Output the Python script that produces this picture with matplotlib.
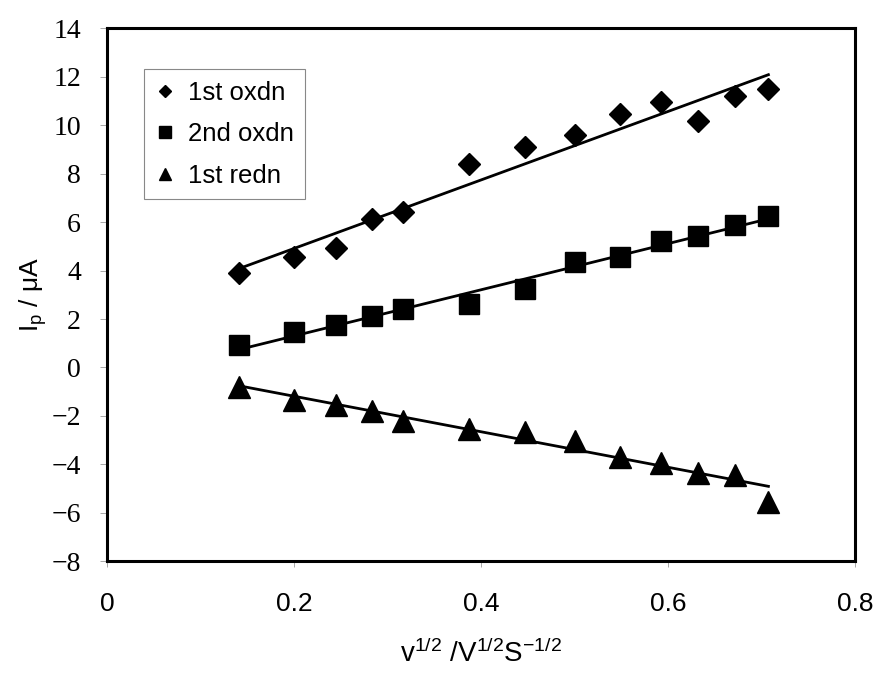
import numpy as np
import matplotlib
matplotlib.use('Agg')
import matplotlib.pyplot as plt

# sqrt(scan rate) values
sqrt_v = [0.141, 0.200, 0.245, 0.283, 0.316, 0.387, 0.447,
          0.500, 0.548, 0.592, 0.632, 0.671, 0.707]

ox1 = [3.90, 4.56, 4.93, 6.12, 6.42, 8.38, 9.10,
       9.61, 10.45, 10.94, 10.18, 11.20, 11.51]
ox2 = [0.91, 1.46, 1.76, 2.12, 2.42, 2.62, 3.25,
       4.35, 4.56, 5.21, 5.41, 5.87, 6.25]
red1 = [-0.81, -1.36, -1.57, -1.80, -2.19, -2.53, -2.67,
        -3.02, -3.71, -3.95, -4.37, -4.42, -5.57]

labels = ['1st oxdn', '2nd oxdn', '1st redn']
markers = ['D', 's', '^']
msizes = [11, 15, 16]

plt.rcParams['font.family'] = ['Liberation Sans', 'DejaVu Sans']
plt.rcParams['mathtext.default'] = 'regular'

fig = plt.figure(figsize=(8.8, 6.73), dpi=100)
ax = fig.add_axes([0.122, 0.166, 0.850, 0.792])

x = np.array(sqrt_v)
for y, lab, m, ms in zip([ox1, ox2, red1], labels, markers, msizes):
    y = np.array(y)
    ax.plot(x, y, linestyle='none', marker=m, markersize=ms,
            color='black', label=lab)
    k, b = np.polyfit(x, y, 1)
    xx = np.array([x.min(), x.max()])
    ax.plot(xx, k * xx + b, color='black', linewidth=2)

ax.set_xlim(0, 0.8)
ax.set_ylim(-8, 14)
ax.set_xticks([0, 0.2, 0.4, 0.6, 0.8])
ax.set_xticklabels(['0', '0.2', '0.4', '0.6', '0.8'])
ax.set_yticks(range(-8, 15, 2))

for s in ax.spines.values():
    s.set_linewidth(2.2)

ax.tick_params(axis='x', direction='out', length=4, width=0.6, color='#999999',
               pad=18, labelsize=19)
ax.tick_params(axis='y', direction='out', length=5, width=0.6, color='#999999',
               pad=14, labelsize=20)
for t in ax.get_yticklabels():
    t.set_family(['Liberation Serif', 'DejaVu Serif'])

ax.set_xlabel('v$^{1/2}$ /V$^{1/2}$S$^{-1/2}$', fontsize=20, labelpad=17)
ax.set_ylabel('I$_p$ / \u03bcA', fontsize=19, labelpad=2)

leg = ax.legend(loc='upper left', bbox_to_anchor=(0.049, 0.923), borderaxespad=0,
                fontsize=18.5, markerscale=0.55, handlelength=0.7,
                handletextpad=0.55, labelspacing=0.68, borderpad=0.45,
                fancybox=False, framealpha=1)
leg.get_frame().set_edgecolor('#888888')
leg.get_frame().set_linewidth(0.8)

fig.savefig('out.png', dpi=100)
